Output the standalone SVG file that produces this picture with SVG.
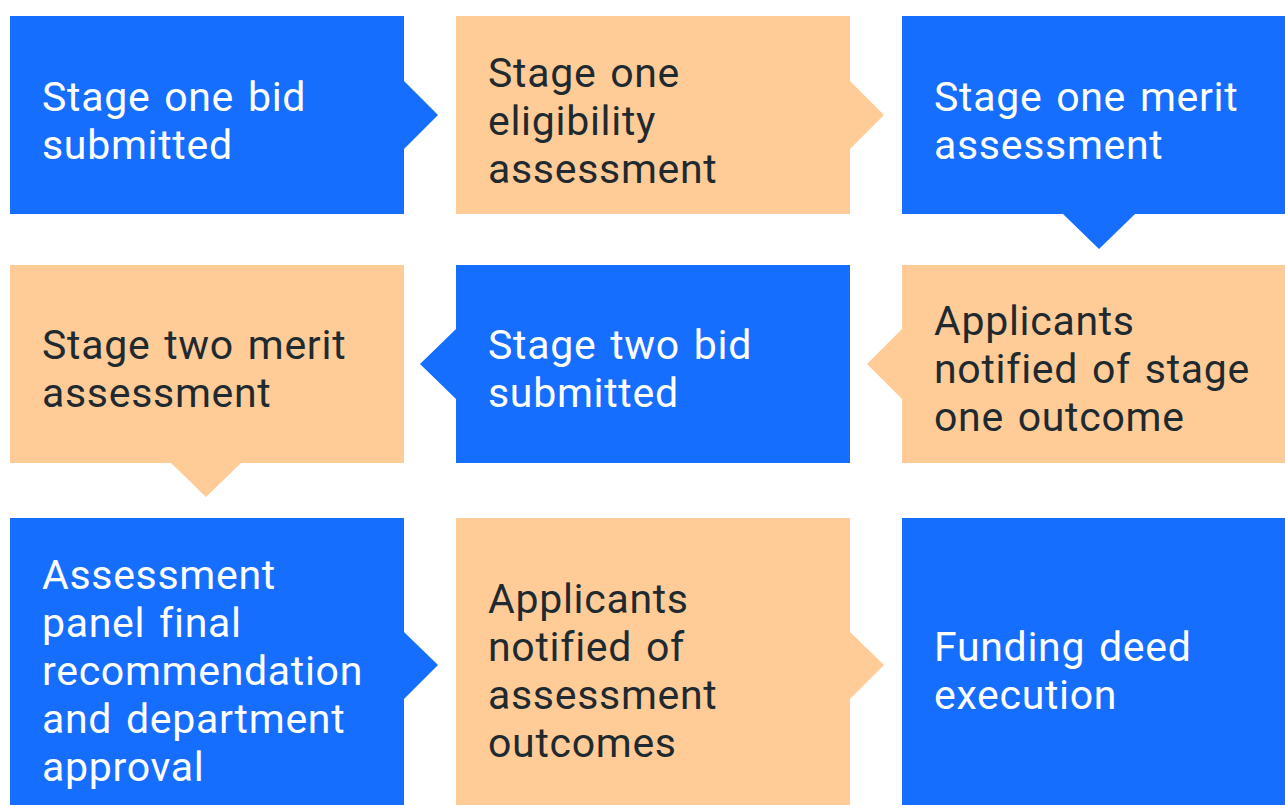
<svg xmlns="http://www.w3.org/2000/svg" width="1285" height="805" viewBox="0 0 1285 805">
  <style>
    .blue { fill: #166EFF; }
    .peach { fill: #FFCC97; }
    .label { font-family: Roboto, "Open Sans", "Liberation Sans", sans-serif; font-size: 41px; letter-spacing: 0.7px; word-spacing: 3px; }
    .on-blue { fill: #FFFFFF; }
    .on-peach { fill: #1F2A30; }
  </style>
  <rect width="1285" height="805" fill="#FFFFFF"/>

  <!-- Row 1 -->
  <g id="stage-one-bid">
    <path class="blue" d="M10 16 H404 V81 L438 115 L404 149 V214 H10 Z"/>
    <text class="label on-blue" x="42" y="111">Stage one bid</text>
    <text class="label on-blue" x="42" y="159">submitted</text>
  </g>
  <g id="stage-one-eligibility">
    <path class="peach" d="M456 16 H850 V81 L884 115 L850 149 V214 H456 Z"/>
    <text class="label on-peach" x="488" y="87">Stage one</text>
    <text class="label on-peach" x="488" y="135">eligibility</text>
    <text class="label on-peach" x="488" y="183">assessment</text>
  </g>
  <g id="stage-one-merit">
    <path class="blue" d="M902 16 H1296 V214 H1135 L1099 249 L1063 214 H902 Z"/>
    <text class="label on-blue" x="934" y="111">Stage one merit</text>
    <text class="label on-blue" x="934" y="159">assessment</text>
  </g>

  <!-- Row 2 -->
  <g id="stage-one-outcome">
    <path class="peach" d="M902 265 H1296 V463 H902 V399 L867 364 L902 329 Z"/>
    <text class="label on-peach" x="934" y="335">Applicants</text>
    <text class="label on-peach" x="934" y="383">notified of stage</text>
    <text class="label on-peach" x="934" y="431">one outcome</text>
  </g>
  <g id="stage-two-bid">
    <path class="blue" d="M456 265 H850 V463 H456 V399 L420 364 L456 329 Z"/>
    <text class="label on-blue" x="488" y="359">Stage two bid</text>
    <text class="label on-blue" x="488" y="407">submitted</text>
  </g>
  <g id="stage-two-merit">
    <path class="peach" d="M10 265 H404 V463 H241 L206 497 L171 463 H10 Z"/>
    <text class="label on-peach" x="42" y="359">Stage two merit</text>
    <text class="label on-peach" x="42" y="407">assessment</text>
  </g>

  <!-- Row 3 -->
  <g id="panel-recommendation">
    <path class="blue" d="M10 518 H404 V632 L438 665 L404 699 V812 H10 Z"/>
    <text class="label on-blue" x="42" y="589">Assessment</text>
    <text class="label on-blue" x="42" y="637">panel final</text>
    <text class="label on-blue" x="42" y="685">recommendation</text>
    <text class="label on-blue" x="42" y="733">and department</text>
    <text class="label on-blue" x="42" y="781">approval</text>
  </g>
  <g id="assessment-outcomes">
    <path class="peach" d="M456 518 H850 V632 L884 665 L850 699 V812 H456 Z"/>
    <text class="label on-peach" x="488" y="613">Applicants</text>
    <text class="label on-peach" x="488" y="661">notified of</text>
    <text class="label on-peach" x="488" y="709">assessment</text>
    <text class="label on-peach" x="488" y="757">outcomes</text>
  </g>
  <g id="funding-deed">
    <path class="blue" d="M902 518 H1296 V812 H902 Z"/>
    <text class="label on-blue" x="934" y="661">Funding deed</text>
    <text class="label on-blue" x="934" y="709">execution</text>
  </g>

  <!-- Connectors are drawn as the pointed tabs on each box outline -->
  <g id="connectors"/>
</svg>
